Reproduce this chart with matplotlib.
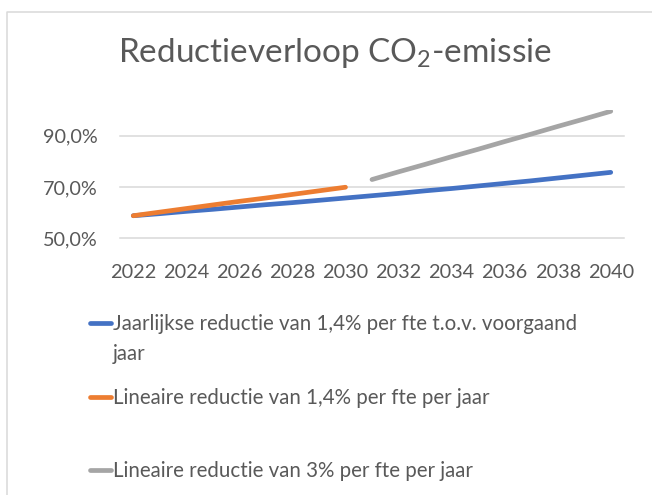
import matplotlib
matplotlib.use("Agg")
import matplotlib.pyplot as plt
from matplotlib.lines import Line2D

plt.rcParams['font.family'] = ['Lato', 'DejaVu Sans']
plt.rcParams['mathtext.fontset'] = 'custom'
plt.rcParams['mathtext.rm'] = 'Lato'

# data
years = list(range(2022, 2041))
jaarlijks = [58.8, 59.6, 60.5, 61.3, 62.2, 63.1, 63.9, 64.8, 65.7, 66.6,
             67.5, 68.5, 69.4, 70.4, 71.4, 72.4, 73.5, 74.6, 75.7]
lin_years = list(range(2022, 2031))
lineair_14 = [58.8, 60.2, 61.6, 63.0, 64.4, 65.7, 67.1, 68.5, 69.9]
lin3_years = list(range(2031, 2041))
lineair_3 = [72.9, 75.9, 78.8, 81.8, 84.7, 87.7, 90.6, 93.6, 96.5, 99.5]

labels = ["Jaarlijkse reductie van 1,4% per fte t.o.v. voorgaand\njaar",
          "Lineaire reductie van 1,4% per fte per jaar",
          "Lineaire reductie van 3% per fte per jaar"]
colors = ['#4472C4', '#ED7D31', '#A5A5A5']
yticks = [50, 70, 90]
ytick_labels = ['50,0%', '70,0%', '90,0%']
xticks = list(range(2022, 2041, 2))

W, H = 652, 495
text_col = '#595959'
grid_col = '#D9D9D9'

fig = plt.figure(figsize=(W / 100, H / 100), dpi=100)
ax = fig.add_axes([120 / W, 1 - 238.3 / H, 504 / W, 128.3 / H])

series = [(years, jaarlijks), (lin_years, lineair_14), (lin3_years, lineair_3)]
lines = []
for (xs, ys), c in zip(series, colors):
    ln, = ax.plot(xs, ys, color=c, lw=3.4, solid_capstyle='round', zorder=3)
    lines.append(ln)

ax.set_xlim(2021.5, 2040.5)
ax.set_ylim(50, 100)
ax.set_yticks(yticks)
ax.set_yticklabels(ytick_labels)
ax.set_xticks(xticks)
ax.set_xticklabels([str(x) for x in xticks])
ax.tick_params(length=0, labelsize=14.3, colors=text_col)
ax.tick_params(axis='y', pad=16)
ax.tick_params(axis='x', pad=18.5)
for s in ax.spines.values():
    s.set_visible(False)
ax.yaxis.grid(True, color=grid_col, lw=1.1)
for gl in ax.get_ygridlines():
    gl.set_clip_on(False)
ax.set_axisbelow(True)

fig.text(334.5 / W, 1 - 62 / H, 'Reductieverloop CO$_{2}$-emissie', ha='center',
         va='baseline', fontsize=24, color=text_col)

# legend
leg_y = [323, 397, 470]
for ln, lab, y in zip(lines, labels, leg_y):
    fig.add_artist(Line2D([90 / W, 111 / W], [1 - y / H, 1 - y / H],
                          color=ln.get_color(), lw=3.4, solid_capstyle='round'))
    fig.text(113 / W, 1 - (y - 9) / H, lab, ha='left', va='top',
             fontsize=14.8, color=text_col, linespacing=1.65)

# chart border
fig.add_artist(Line2D([7 / W, 7 / W, 1], [0, 1 - 11.5 / H, 1 - 11.5 / H],
                      color=grid_col, lw=1.1))

fig.savefig('out.png', dpi=100)
